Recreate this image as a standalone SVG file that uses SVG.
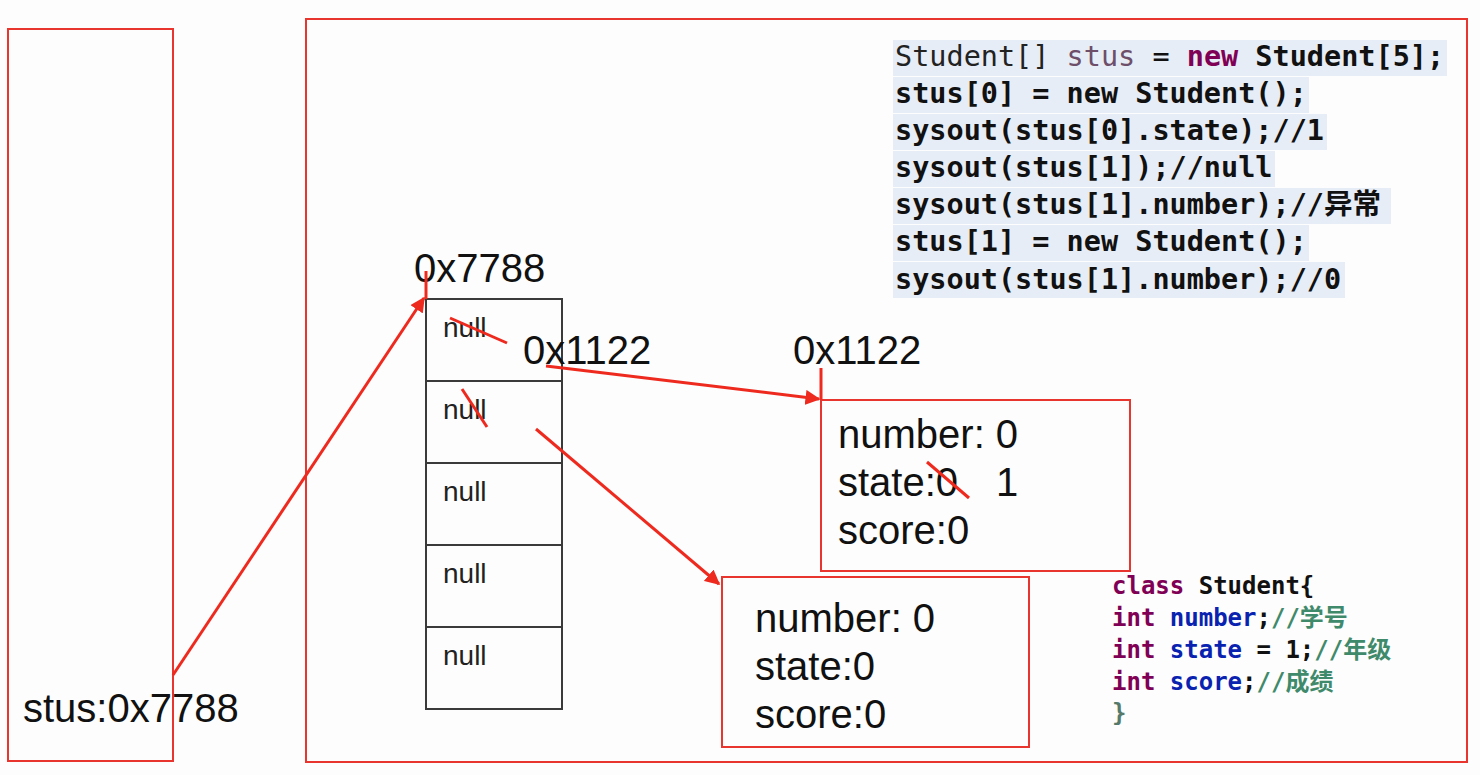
<svg xmlns="http://www.w3.org/2000/svg" width="1480" height="775" viewBox="0 0 1480 775">
<style>
.frame{fill:none;stroke:#e8352e;stroke-width:2}
.cell{fill:none;stroke:#3a3a3a;stroke-width:2}
.big{font-family:"Liberation Sans",Arial,sans-serif;font-size:40px;fill:#111}
.null{font-family:"Liberation Sans",Arial,sans-serif;font-size:28px;fill:#222}
.red{stroke:#ee2a1f;stroke-width:3;fill:none}
.code{font-family:"DejaVu Sans Mono","Noto Sans CJK SC",monospace;font-size:28.5px;font-weight:bold;fill:#111}
.cls{font-family:"DejaVu Sans Mono","Noto Sans CJK SC",monospace;font-size:24px;font-weight:bold}
.hl{fill:#e7edf6}
.kw{fill:#7f0055}
.fld{fill:#0a22b0}
.cm{fill:#3f8a6a}
</style>
<defs>
<marker id="ah" viewBox="0 0 10 10" refX="9" refY="5" markerWidth="5" markerHeight="5" orient="auto" markerUnits="strokeWidth">
<path d="M0,0 L10,5 L0,10 z" fill="#ee2a1f"/>
</marker>
</defs>
<rect width="1480" height="775" fill="#fdfdfd"/>

<g id="stack">
<rect class="frame" x="8" y="29" width="165" height="732"/>
<text class="big" x="23" y="722">stus:0x7788</text>
</g>

<g id="heap">
<rect class="frame" x="306" y="19" width="1161" height="743"/>
</g>

<g id="code">
<rect class="hl" x="893" y="40" width="554" height="36"/>
<rect class="hl" x="893" y="77" width="416" height="36"/>
<rect class="hl" x="893" y="114" width="434" height="36"/>
<rect class="hl" x="893" y="151" width="382" height="36"/>
<rect class="hl" x="893" y="188" width="498" height="36"/>
<rect class="hl" x="893" y="225" width="416" height="36"/>
<rect class="hl" x="893" y="262" width="452" height="36"/>
<text class="code" x="895" y="66"><tspan font-weight="normal" fill="#222">Student[] </tspan><tspan font-weight="normal" fill="#6e4f6a">stus</tspan><tspan font-weight="normal"> = </tspan><tspan class="kw">new</tspan> Student[5];</text>
<text class="code" x="895" y="103">stus[0] = new Student();</text>
<text class="code" x="895" y="140">sysout(stus[0].state);//1</text>
<text class="code" x="895" y="177">sysout(stus[1]);//null</text>
<text class="code" x="895" y="214">sysout(stus[1].number);//异常</text>
<text class="code" x="895" y="251">stus[1] = new Student();</text>
<text class="code" x="895" y="289">sysout(stus[1].number);//0</text>
</g>

<g id="classdef">
<text class="cls" x="1112" y="594"><tspan class="kw">class</tspan><tspan fill="#111"> Student{</tspan></text>
<text class="cls" x="1112" y="626"><tspan class="kw">int</tspan> <tspan class="fld">number</tspan><tspan fill="#111">;</tspan><tspan class="cm">//学号</tspan></text>
<text class="cls" x="1112" y="658"><tspan class="kw">int</tspan> <tspan class="fld">state</tspan><tspan fill="#111"> = 1;</tspan><tspan class="cm">//年级</tspan></text>
<text class="cls" x="1112" y="690"><tspan class="kw">int</tspan> <tspan class="fld">score</tspan><tspan fill="#111">;</tspan><tspan class="cm">//成绩</tspan></text>
<text class="cls" x="1112" y="721" fill="#557a6a">}</text>
</g>

<g id="array">
<text class="big" x="414" y="282">0x7788</text>
<rect class="cell" x="426" y="299" width="136" height="82"/>
<rect class="cell" x="426" y="381" width="136" height="82"/>
<rect class="cell" x="426" y="463" width="136" height="82"/>
<rect class="cell" x="426" y="545" width="136" height="82"/>
<rect class="cell" x="426" y="627" width="136" height="82"/>
<text class="null" x="443" y="337">null</text>
<text class="null" x="443" y="419">null</text>
<text class="null" x="443" y="501">null</text>
<text class="null" x="443" y="583">null</text>
<text class="null" x="443" y="665">null</text>
<text class="big" x="523" y="364">0x1122</text>
<line class="red" x1="450" y1="318" x2="507" y2="343"/>
<line class="red" x1="462" y1="389" x2="487" y2="427"/>
</g>

<g id="student0">
<text class="big" x="793" y="364">0x1122</text>
<rect class="frame" x="821" y="400" width="309" height="171"/>
<text class="big" x="838" y="448">number: 0</text>
<text class="big" x="838" y="496">state:0</text>
<text class="big" x="996" y="496">1</text>
<text class="big" x="838" y="544">score:0</text>
<line class="red" x1="927" y1="462" x2="969" y2="498"/>
</g>

<g id="student1">
<rect class="frame" x="722" y="577" width="307" height="170"/>
<text class="big" x="755" y="632">number: 0</text>
<text class="big" x="755" y="680">state:0</text>
<text class="big" x="755" y="728">score:0</text>
</g>

<g id="connectors">
<line class="red" x1="173" y1="675" x2="424" y2="298" marker-end="url(#ah)"/>
<line class="red" x1="426" y1="271" x2="426" y2="299"/>
<line class="red" x1="546" y1="366" x2="819" y2="399" marker-end="url(#ah)"/>
<line class="red" x1="821" y1="368" x2="821" y2="400"/>
<line class="red" x1="536" y1="429" x2="719" y2="584" marker-end="url(#ah)"/>
</g>
</svg>
